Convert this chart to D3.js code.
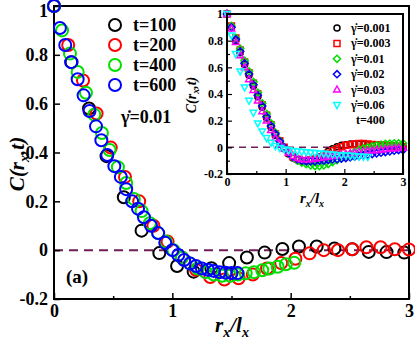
<!DOCTYPE html>
<html>
<head>
<meta charset="utf-8">
<script src="https://cdn.jsdelivr.net/npm/d3@7"></script>
<style>
  html, body { margin: 0; padding: 0; background: #fff; }
  svg text { font-family: "Liberation Serif", "Times New Roman", serif; font-weight: bold; }
</style>
</head>
<body>
<svg id="chart" width="415" height="345"></svg>
<script>
// ---- main panel data (r_x / l_x , C) ----
const t100X = [0, 0.148, 0.296, 0.444, 0.59, 0.74, 0.89, 1.04, 1.18, 1.33, 1.48, 1.63, 1.78, 1.93, 2.07, 2.22, 2.37, 2.52, 2.66, 2.81, 2.96];
const t100Y = [1, 0.77, 0.58, 0.385, 0.217, 0.08, -0.012, -0.065, -0.088, -0.074, -0.053, -0.03, -0.01, 0.005, 0.015, 0.015, 0.007, 0.004, -0.007, -0.008, -0.01];

const t200X = [0, 0.12, 0.245, 0.36, 0.48, 0.6, 0.72, 0.84, 0.96, 1.08, 1.2, 1.32, 1.44, 1.56, 1.68, 1.8, 1.92, 2.04, 2.16, 2.28, 2.4, 2.52, 2.64, 2.76, 2.88, 3.0];
const t200Y = [1, 0.84, 0.695, 0.56, 0.42, 0.3, 0.2, 0.1, 0.035, -0.03, -0.08, -0.11, -0.12, -0.115, -0.1, -0.075, -0.053, -0.035, -0.013, 0, 0, 0.004, 0.012, 0.012, 0.004, 0.003];

const t400X = [0, 0.068, 0.135, 0.2, 0.27, 0.34, 0.405, 0.47, 0.54, 0.61, 0.675, 0.74, 0.81, 0.88, 0.945, 1.01, 1.08, 1.15, 1.215, 1.28, 1.35, 1.42, 1.49, 1.555, 1.62, 1.69, 1.76, 1.82, 1.89, 1.96, 2.03];
const t400Y = [1, 0.9, 0.805, 0.73, 0.645, 0.555, 0.48, 0.41, 0.34, 0.275, 0.21, 0.16, 0.11, 0.07, 0.035, 0, -0.03, -0.055, -0.075, -0.09, -0.1, -0.105, -0.105, -0.1, -0.095, -0.09, -0.082, -0.075, -0.068, -0.058, -0.052];

const t600X = [0, 0.05, 0.095, 0.145, 0.2, 0.25, 0.3, 0.355, 0.4, 0.45, 0.51, 0.565, 0.61, 0.66, 0.71, 0.76, 0.82, 0.88, 0.94, 1.0, 1.05, 1.1, 1.15, 1.2, 1.25, 1.3, 1.35, 1.4, 1.45, 1.5, 1.55];
const t600Y = [1, 0.91, 0.84, 0.77, 0.7, 0.634, 0.57, 0.507, 0.45, 0.39, 0.344, 0.3, 0.25, 0.2, 0.17, 0.135, 0.1, 0.07, 0.03, 0, -0.02, -0.04, -0.055, -0.065, -0.075, -0.08, -0.085, -0.09, -0.092, -0.094, -0.094];

const mainLabels = ["t=100", "t=200", "t=400", "t=600"];
const mainColors = ["#000000", "#ff0000", "#00e000", "#0000ff"];

// ---- inset data (t=400, different shear rates) ----
const insetX = [0, 0.075, 0.15, 0.225, 0.3, 0.375, 0.45, 0.525, 0.6, 0.675, 0.75, 0.825, 0.9, 0.975, 1.05, 1.125, 1.2, 1.275, 1.35, 1.425, 1.5, 1.575, 1.65, 1.725, 1.8, 1.875, 1.95, 2.025, 2.1, 2.175, 2.25, 2.325, 2.4, 2.475, 2.55, 2.625, 2.7, 2.775, 2.85, 2.925, 3.0];
const g0001 = [1, 0.9, 0.8, 0.71, 0.62, 0.54, 0.46, 0.38, 0.3, 0.22, 0.15, 0.09, 0.04, -0.01, -0.05, -0.08, -0.095, -0.1, -0.1, -0.095, -0.085, -0.07, -0.05, -0.03, -0.01, 0.005, 0.015, 0.02, 0.025, 0.025, 0.025, 0.022, 0.02, 0.018, 0.015, 0.012, 0.01, 0.01, 0.008, 0.005, 0.005];
const g0003 = [1, 0.91, 0.82, 0.73, 0.64, 0.56, 0.48, 0.4, 0.32, 0.24, 0.17, 0.1, 0.05, 0, -0.04, -0.07, -0.09, -0.1, -0.1, -0.095, -0.09, -0.08, -0.065, -0.045, -0.025, -0.01, 0.005, 0.015, 0.02, 0.025, 0.028, 0.028, 0.025, 0.022, 0.02, 0.018, 0.015, 0.012, 0.01, 0.008, 0.005];
const g001 = [1, 0.91, 0.82, 0.74, 0.65, 0.57, 0.49, 0.41, 0.33, 0.25, 0.18, 0.11, 0.05, 0, -0.04, -0.075, -0.1, -0.115, -0.125, -0.135, -0.14, -0.14, -0.135, -0.125, -0.11, -0.095, -0.08, -0.065, -0.05, -0.035, -0.02, -0.008, 0, 0.008, 0.015, 0.02, 0.025, 0.028, 0.03, 0.03, 0.03];
const g002 = [1, 0.9, 0.81, 0.72, 0.63, 0.55, 0.47, 0.39, 0.31, 0.23, 0.16, 0.1, 0.045, 0, -0.04, -0.07, -0.09, -0.1, -0.105, -0.105, -0.105, -0.1, -0.1, -0.095, -0.09, -0.088, -0.085, -0.08, -0.075, -0.07, -0.065, -0.06, -0.055, -0.05, -0.045, -0.04, -0.035, -0.03, -0.025, -0.02, -0.02];
const g003 = [1, 0.89, 0.79, 0.69, 0.6, 0.51, 0.43, 0.35, 0.27, 0.2, 0.13, 0.07, 0.025, -0.01, -0.04, -0.065, -0.08, -0.09, -0.09, -0.09, -0.085, -0.08, -0.075, -0.07, -0.065, -0.06, -0.055, -0.05, -0.045, -0.04, -0.035, -0.03, -0.027, -0.023, -0.02, -0.017, -0.013, -0.01, -0.007, -0.005, -0.003];
const g006 = [1, 0.84, 0.7, 0.57, 0.45, 0.35, 0.26, 0.18, 0.12, 0.07, 0.035, 0.01, -0.005, -0.015, -0.022, -0.027, -0.03, -0.033, -0.036, -0.039, -0.042, -0.045, -0.048, -0.05, -0.053, -0.056, -0.058, -0.06, -0.063, -0.066, -0.068, -0.07, -0.072];

const insetLabels = ["=0.001", "=0.003", "=0.01", "=0.02", "=0.03", "=0.06"];
const insetColors = ["#000000", "#ff0000", "#00e000", "#0000ff", "#ff00ff", "#00ffff"];
const insetShapes = ["circle", "square", "diamond", "diamond", "triUp", "triDown"];

const svg = d3.select("#chart");
const zeroColor = "#6e1f55";

function fmt(d) {
  if (d === 0) return "0";
  if (d === 1) return "1";
  if (d === 2) return "2";
  if (d === 3) return "3";
  return (d < 0 ? "-" : "") + Math.abs(d).toFixed(1);
}

// shape paths centred on 0,0
function shapePath(kind, s) {
  if (kind === "square") return `M${-s},${-s}H${s}V${s}H${-s}Z`;
  if (kind === "diamond") return `M0,${-s * 1.2}L${s * 1.2},0L0,${s * 1.2}L${-s * 1.2},0Z`;
  if (kind === "triUp") return `M0,${-s * 1.2}L${s * 1.1},${s * 0.8}L${-s * 1.1},${s * 0.8}Z`;
  if (kind === "triDown") return `M0,${s * 1.2}L${s * 1.1},${-s * 0.8}L${-s * 1.1},${-s * 0.8}Z`;
  return null;
}

function drawMarks(g, xs, ys, xScale, yScale, kind, color, size, sw) {
  const pts = xs.slice(0, ys.length).map((x, i) => [x, ys[i]]);
  if (kind === "circle") {
    g.append("g").selectAll("circle").data(pts).join("circle")
      .attr("cx", d => xScale(d[0])).attr("cy", d => yScale(d[1]))
      .attr("r", size).attr("fill", "none").attr("stroke", color).attr("stroke-width", sw);
  } else {
    g.append("g").selectAll("path").data(pts).join("path")
      .attr("transform", d => `translate(${xScale(d[0])},${yScale(d[1])})`)
      .attr("d", shapePath(kind, size)).attr("fill", "none").attr("stroke", color).attr("stroke-width", sw);
  }
}

// ================= main panel =================
const x = d3.scaleLinear().domain([0, 3]).range([54, 409]);
const y = d3.scaleLinear().domain([-0.2, 1]).range([299, 6]);

const main = svg.append("g");

// zero dashed line
main.append("line")
  .attr("x1", x(0)).attr("x2", x(3)).attr("y1", y(0)).attr("y2", y(0))
  .attr("stroke", zeroColor).attr("stroke-width", 2).attr("stroke-dasharray", "9,6");

const xAxis = main.append("g").attr("transform", `translate(0,${y(-0.2)})`)
  .call(d3.axisBottom(x).tickValues([0, 1, 2, 3]).tickSize(-6).tickPadding(4).tickFormat(fmt));
main.append("g").attr("transform", `translate(0,${y(-0.2)})`)
  .call(d3.axisBottom(x).tickValues([0.5, 1.5, 2.5]).tickSize(-3).tickFormat(""));
const yAxis = main.append("g").attr("transform", `translate(${x(0)},0)`)
  .call(d3.axisLeft(y).tickValues([-0.2, 0, 0.2, 0.4, 0.6, 0.8, 1]).tickSize(-6).tickPadding(6).tickFormat(fmt));
main.selectAll(".domain").remove();
main.selectAll(".tick line").attr("stroke", "#000").attr("stroke-width", 1.5);
xAxis.selectAll("text").attr("font-size", 18).attr("dy", "0.75em");
yAxis.selectAll("text").attr("font-size", 18);
yAxis.selectAll(".tick").filter(d => d === 1).select("text").attr("dy", "0.6em");

main.append("rect")
  .attr("x", x(0)).attr("y", y(1)).attr("width", x(3) - x(0)).attr("height", y(-0.2) - y(1))
  .attr("fill", "none").attr("stroke", "#000").attr("stroke-width", 2);

// axis titles
const yTitle = main.append("text")
  .attr("transform", "translate(24,164) rotate(-90)")
  .attr("text-anchor", "middle").attr("font-size", 21).attr("font-style", "italic");
yTitle.append("tspan").text("C(r");
yTitle.append("tspan").text("x").attr("font-size", 14).attr("dy", 5);
yTitle.append("tspan").text(",t)").attr("dy", -5);

const xTitle = main.append("text")
  .attr("x", 232).attr("y", 332).attr("text-anchor", "middle")
  .attr("font-size", 21).attr("font-style", "italic");
xTitle.append("tspan").text("r");
xTitle.append("tspan").text("x").attr("font-size", 14).attr("dy", 5);
xTitle.append("tspan").text("/l").attr("dy", -5);
xTitle.append("tspan").text("x").attr("font-size", 14).attr("dy", 5);

main.append("text").attr("x", 66).attr("y", 283).attr("font-size", 19).text("(a)");

// data
const mainXs = [t100X, t200X, t400X, t600X];
const mainYs = [t100Y, t200Y, t400Y, t600Y];
mainXs.forEach((xs, i) => drawMarks(main, xs, mainYs[i], x, y, "circle", mainColors[i], 6, 2));

// legend
mainLabels.forEach((lab, i) => {
  main.append("circle").attr("cx", 115).attr("cy", 25 + i * 20).attr("r", 6)
    .attr("fill", "none").attr("stroke", mainColors[i]).attr("stroke-width", 2);
  main.append("text").attr("x", 133).attr("y", 31 + i * 20).attr("font-size", 18).text(lab);
});
const gLab = main.append("text").attr("x", 121).attr("y", 123).attr("font-size", 18);
gLab.append("tspan").text("\u03b3\u0307");
gLab.append("tspan").text("=0.01");

// ================= inset =================
const ix = d3.scaleLinear().domain([0, 3]).range([227, 403]);
const iy = d3.scaleLinear().domain([-0.2, 1]).range([174, 14]);
const inset = svg.append("g");

inset.append("rect")
  .attr("x", ix(0)).attr("y", iy(1)).attr("width", ix(3) - ix(0)).attr("height", iy(-0.2) - iy(1))
  .attr("fill", "#fff");

inset.append("line")
  .attr("x1", ix(0)).attr("x2", ix(3)).attr("y1", iy(0)).attr("y2", iy(0))
  .attr("stroke", zeroColor).attr("stroke-width", 1.5).attr("stroke-dasharray", "7,5");

const ixAxis = inset.append("g").attr("transform", `translate(0,${iy(-0.2)})`)
  .call(d3.axisBottom(ix).tickValues([0, 1, 2, 3]).tickSize(-5).tickPadding(3).tickFormat(fmt));
inset.append("g").attr("transform", `translate(0,${iy(-0.2)})`)
  .call(d3.axisBottom(ix).tickValues([0.5, 1.5, 2.5]).tickSize(-3).tickFormat(""));
const iyAxis = inset.append("g").attr("transform", `translate(${ix(0)},0)`)
  .call(d3.axisLeft(iy).tickValues([-0.2, 0, 0.2, 0.4, 0.6, 0.8, 1]).tickSize(-5).tickPadding(4).tickFormat(fmt));
inset.append("g").attr("transform", `translate(${ix(0)},0)`)
  .call(d3.axisLeft(iy).tickValues([-0.1, 0.1, 0.3, 0.5, 0.7, 0.9]).tickSize(-3).tickFormat(""));
inset.selectAll(".domain").remove();
inset.selectAll(".tick line").attr("stroke", "#000").attr("stroke-width", 1.2);
ixAxis.selectAll("text").attr("font-size", 12).attr("dy", "0.75em");
iyAxis.selectAll("text").attr("font-size", 12);

const insetYs = [g0001, g0003, g001, g002, g003, g006];
insetYs.forEach((ys, i) => drawMarks(inset, insetX, ys, ix, iy, insetShapes[i], insetColors[i], 3, 1.5));

inset.append("rect")
  .attr("x", ix(0)).attr("y", iy(1)).attr("width", ix(3) - ix(0)).attr("height", iy(-0.2) - iy(1))
  .attr("fill", "none").attr("stroke", "#000").attr("stroke-width", 2);

const iyTitle = inset.append("text")
  .attr("transform", "translate(196,95) rotate(-90)")
  .attr("text-anchor", "middle").attr("font-size", 14).attr("font-style", "italic");
iyTitle.append("tspan").text("C(r");
iyTitle.append("tspan").text("x").attr("font-size", 10).attr("dy", 3);
iyTitle.append("tspan").text(",t)").attr("dy", -3);

const ixTitle = inset.append("text")
  .attr("x", 312).attr("y", 203).attr("text-anchor", "middle")
  .attr("font-size", 15).attr("font-style", "italic");
ixTitle.append("tspan").text("r");
ixTitle.append("tspan").text("x").attr("font-size", 10).attr("dy", 4);
ixTitle.append("tspan").text("/l").attr("dy", -4);
ixTitle.append("tspan").text("x").attr("font-size", 10).attr("dy", 4);

insetLabels.forEach((lab, i) => {
  const cy = 28 + i * 15.4;
  if (insetShapes[i] === "circle") {
    inset.append("circle").attr("cx", 337).attr("cy", cy).attr("r", 3)
      .attr("fill", "none").attr("stroke", insetColors[i]).attr("stroke-width", 1.5);
  } else {
    inset.append("path").attr("transform", `translate(337,${cy})`).attr("d", shapePath(insetShapes[i], 3))
      .attr("fill", "none").attr("stroke", insetColors[i]).attr("stroke-width", 1.5);
  }
  const t = inset.append("text").attr("x", 351).attr("y", cy + 4).attr("font-size", 12);
  t.append("tspan").text("\u03b3\u0307");
  t.append("tspan").text(lab);
});
inset.append("text").attr("x", 356).attr("y", 124).attr("font-size", 12).text("t=400");
</script>
</body>
</html>
